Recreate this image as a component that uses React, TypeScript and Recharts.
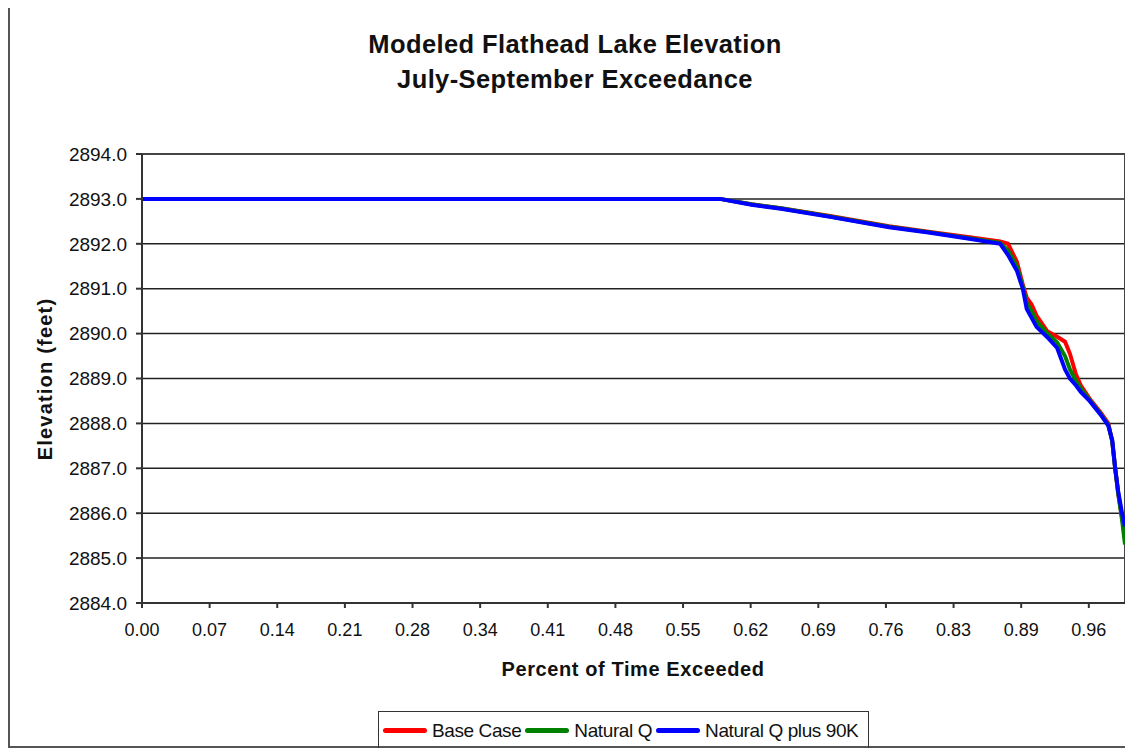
import React from "react";
import { LineChart, Line, XAxis, YAxis, CartesianGrid, ReferenceArea } from "recharts";

// percent of time exceeded (x positions shared by all three series)
const exceedance = [
  0, 0.3, 0.588, 0.62, 0.65, 0.7, 0.76, 0.8, 0.84, 0.873, 0.881, 0.89, 0.896, 0.9, 0.905,
  0.91, 0.921, 0.931, 0.939, 0.944, 0.95, 0.955, 0.964, 0.975, 0.983, 0.987, 0.99, 0.993,
  0.997, 1.0,
];

const baseCase = [
  2893, 2893, 2893, 2892.88, 2892.79, 2892.62, 2892.39, 2892.27, 2892.15, 2892.05, 2892.0,
  2891.6, 2891.1, 2890.8, 2890.65, 2890.4, 2890.05, 2889.93, 2889.82, 2889.55, 2889.1,
  2888.85, 2888.55, 2888.25, 2888.0, 2887.6, 2887.0, 2886.45, 2885.9, 2885.5,
];

const naturalQ = [
  2893, 2893, 2893, 2892.88, 2892.79, 2892.61, 2892.38, 2892.26, 2892.13, 2892.02, 2891.85,
  2891.5, 2891.05, 2890.68, 2890.5, 2890.28, 2890.0, 2889.8, 2889.5, 2889.2, 2888.95,
  2888.78, 2888.52, 2888.22, 2887.97, 2887.6, 2887.0, 2886.45, 2885.85, 2885.3,
];

const naturalQ90K = [
  2893, 2893, 2893, 2892.87, 2892.78, 2892.6, 2892.37, 2892.25, 2892.12, 2892.0, 2891.75,
  2891.4, 2891.0, 2890.55, 2890.35, 2890.15, 2889.92, 2889.68, 2889.2, 2889.0, 2888.85,
  2888.7, 2888.5, 2888.2, 2887.95, 2887.63, 2887.0, 2886.5, 2886.0, 2885.7,
];

const xTicks = [
  0, 0.0688, 0.1376, 0.2064, 0.2752, 0.344, 0.4128, 0.4816, 0.5504, 0.6192, 0.688, 0.7568,
  0.8256, 0.8944, 0.9632,
];
const yTicks = [2884, 2885, 2886, 2887, 2888, 2889, 2890, 2891, 2892, 2893, 2894];

const series = [
  { key: "base", name: "Base Case", color: "#ff0000" },
  { key: "natural", name: "Natural Q", color: "#008000" },
  { key: "plus90k", name: "Natural Q plus 90K", color: "#0000ff" },
];

const data = exceedance.map((x, i) => ({
  x,
  base: baseCase[i],
  natural: naturalQ[i],
  plus90k: naturalQ90K[i],
}));

const font = "'Liberation Sans', Arial, sans-serif";

export default function App() {
  return (
    <div
      style={{
        position: "relative",
        marginTop: -4,
        width: 1125,
        height: 744,
        border: "2px solid #555",
        boxSizing: "border-box",
        background: "#fff",
        fontFamily: font,
        color: "#111",
      }}
    >
      <div
        style={{
          position: "absolute",
          left: 0,
          width: 1130,
          top: 21,
          textAlign: "center",
          fontWeight: "bold",
          fontSize: 25.5,
          lineHeight: "35px",
          letterSpacing: 0.4,
        }}
      >
        <div>Modeled Flathead Lake Elevation</div>
        <div>July-September Exceedance</div>
      </div>

      <LineChart
        width={1121}
        height={740}
        data={data}
        margin={{ top: 148, right: 6, bottom: 103, left: 52 }}
      >
        <CartesianGrid horizontal vertical={false} stroke="#222" strokeWidth={1.5} />
        <ReferenceArea
          x1={0}
          x2={1}
          y1={2884}
          y2={2894}
          fill="none"
          stroke="#444"
          strokeWidth={2}
          ifOverflow="visible"
        />
        <XAxis
          dataKey="x"
          type="number"
          domain={[0, 1]}
          ticks={xTicks}
          tickFormatter={(v: number) => v.toFixed(2)}
          height={40}
          tickSize={5}
          tickMargin={15}
          stroke="#333"
          strokeWidth={2}
          tick={{ fill: "#111", fontSize: 18, fontFamily: font }}
        />
        <YAxis
          type="number"
          domain={[2884, 2894]}
          ticks={yTicks}
          tickFormatter={(v: number) => v.toFixed(1)}
          width={80}
          tickSize={6}
          tickMargin={9}
          stroke="#333"
          strokeWidth={2}
          tick={{ fill: "#111", fontSize: 19, fontFamily: font }}
        />
        {series.map((s) => (
          <Line
            key={s.key}
            type="linear"
            dataKey={s.key}
            name={s.name}
            stroke={s.color}
            strokeWidth={4}
            dot={false}
            isAnimationActive={false}
          />
        ))}
      </LineChart>

      <div
        style={{
          position: "absolute",
          left: 0,
          width: 1246,
          top: 652,
          textAlign: "center",
          fontWeight: "bold",
          fontSize: 20,
          letterSpacing: 0.6,
        }}
      >
        Percent of Time Exceeded
      </div>

      <div
        style={{
          position: "absolute",
          left: 35,
          top: 373,
          transform: "translate(-50%, -50%) rotate(-90deg)",
          whiteSpace: "nowrap",
          fontWeight: "bold",
          fontSize: 20,
          letterSpacing: 1.2,
        }}
      >
        Elevation (feet)
      </div>

      <div
        style={{
          position: "absolute",
          left: 368,
          top: 705,
          width: 491,
          height: 39,
          border: "1.5px solid #333",
          boxSizing: "border-box",
          display: "flex",
          alignItems: "center",
          paddingLeft: 4,
          fontSize: 19,
          letterSpacing: -0.4,
        }}
      >
        {series.map((s) => (
          <div key={s.key} style={{ display: "flex", alignItems: "center", marginRight: 4 }}>
            <span
              style={{
                display: "inline-block",
                width: 44,
                height: 5,
                borderRadius: 3,
                background: s.color,
                marginRight: 5,
              }}
            />
            <span>{s.name}</span>
          </div>
        ))}
      </div>
    </div>
  );
}
